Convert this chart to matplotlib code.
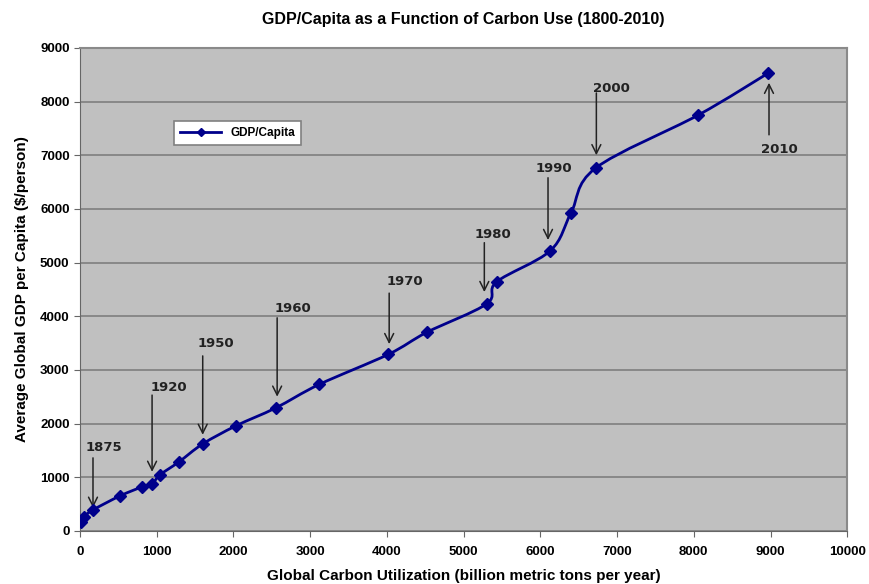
import numpy as np
from matplotlib import pyplot as plt
from matplotlib.path import Path
from matplotlib.patches import PathPatch
from matplotlib.lines import Line2D

plt.rcParams['font.family'] = ['Liberation Sans', 'DejaVu Sans']

# data
carbon = [20, 50, 170, 520, 810, 940, 1040, 1290, 1600, 2030, 2550, 3120,
          4020, 4520, 5300, 5430, 6130, 6400, 6720, 8060, 8970]
gdp = [170, 260, 390, 650, 820, 875, 1040, 1285, 1620, 1955, 2290, 2730,
       3290, 3700, 4230, 4640, 5220, 5925, 6760, 7750, 8530]

years = ['1875', '1920', '1950', '1960', '1970', '1980', '1990', '2000', '2010']
arrow_tip = [(170, 430), (940, 1100), (1600, 1790), (2570, 2500), (4030, 3480),
             (5270, 4450), (6100, 5420), (6730, 7000), (8980, 8350)]
arrow_tail = [(170, 1360), (940, 2530), (1600, 3260), (2570, 3970), (4030, 4430),
              (5270, 5370), (6100, 6580), (6730, 8160), (8980, 7380)]
label_pos = [(310, 1545), (1160, 2680), (1770, 3500), (2780, 4150), (4240, 4640),
             (5380, 5530), (6180, 6760), (6920, 8235), (9110, 7100)]

navy = '#00008B'

fig = plt.figure(figsize=(8.69, 5.84), dpi=100)
ax = fig.add_axes([0.092, 0.091, 0.883, 0.827])
ax.set_facecolor('#c0c0c0')

# smoothed line (bezier, like a spreadsheet "smoothed line")
x = np.array(carbon, dtype=float)
y = np.array(gdp, dtype=float)
n = len(x)
verts = [(x[0], y[0])]
codes = [Path.MOVETO]
for i in range(n - 1):
	i0 = max(i - 1, 0)
	i3 = min(i + 2, n - 1)
	c1 = (x[i] + (x[i + 1] - x[i0]) / 6, y[i] + (y[i + 1] - y[i0]) / 6)
	c2 = (x[i + 1] - (x[i3] - x[i]) / 6, y[i + 1] - (y[i3] - y[i]) / 6)
	verts += [c1, c2, (x[i + 1], y[i + 1])]
	codes += [Path.CURVE4] * 3
ax.add_patch(PathPatch(Path(verts, codes), facecolor='none', edgecolor=navy,
                       lw=2, zorder=3))
ax.plot(carbon, gdp, linestyle='none', marker='D', ms=6, color=navy, zorder=4)

for yr, tip, tail, pos in zip(years, arrow_tip, arrow_tail, label_pos):
	ax.annotate('', xy=tip, xytext=tail,
	            arrowprops=dict(arrowstyle='->', color='#222222', lw=1.1,
	                            mutation_scale=16, shrinkA=0, shrinkB=0))
	ax.text(pos[0], pos[1], yr, ha='center', va='center', fontsize=9.5,
	        fontweight='bold', color='#222222', family=['DejaVu Sans'])

ax.set_xlim(0, 10000)
ax.set_ylim(0, 9000)
ax.set_xticks(np.arange(0, 10001, 1000))
ax.set_yticks(np.arange(0, 9001, 1000))
ax.yaxis.grid(True, color='#7f7f7f', lw=1.2)
ax.set_axisbelow(True)
for s in ['top', 'right']:
	ax.spines[s].set_color('#8a8a8a')
	ax.spines[s].set_linewidth(1.5)
for s in ['left', 'bottom']:
	ax.spines[s].set_color('#666666')
ax.tick_params(axis='both', labelsize=9.5, direction='out', length=4, color='#666666')
ax.tick_params(axis='x', pad=7)
for lab in ax.get_xticklabels() + ax.get_yticklabels():
	lab.set_fontweight('bold')

ax.set_title('GDP/Capita as a Function of Carbon Use (1800-2010)', fontsize=11.5,
             fontweight='bold', pad=17)
ax.set_xlabel('Global Carbon Utilization (billion metric tons per year)',
              fontsize=11, fontweight='bold', labelpad=8)
ax.set_ylabel('Average Global GDP per Capita ($/person)', fontsize=11,
              fontweight='bold', labelpad=8)

handle = Line2D([], [], color=navy, lw=2, marker='D', ms=4)
leg = ax.legend([handle], ['GDP/Capita'], loc='upper left',
                bbox_to_anchor=(0.115, 0.86), fancybox=False, framealpha=1,
                edgecolor='#808080', prop={'weight': 'bold', 'size': 8.5},
                handlelength=3.5, borderpad=0.5)
leg.get_frame().set_linewidth(1.2)

fig.savefig('out.png', dpi=100, facecolor='white')
